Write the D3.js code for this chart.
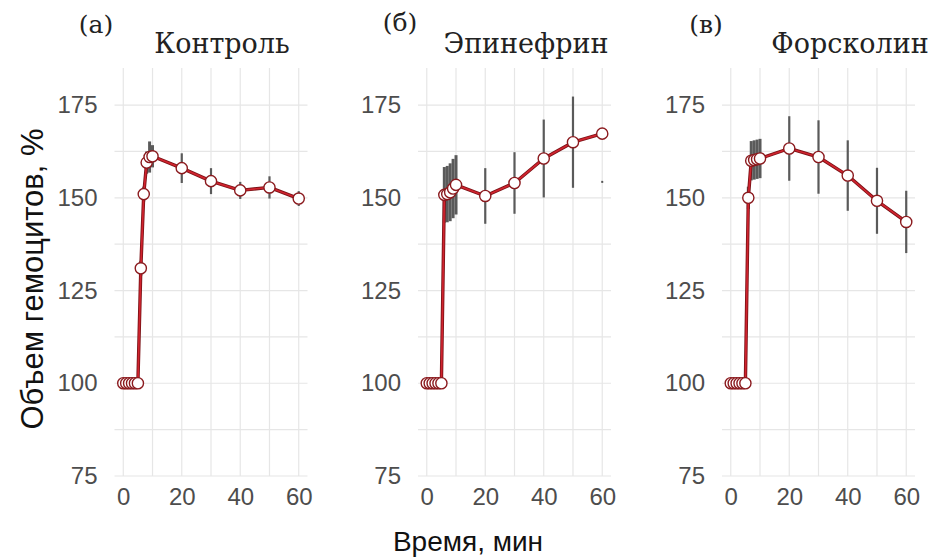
<!DOCTYPE html>
<html>
<head>
<meta charset="utf-8">
<script src="https://cdn.jsdelivr.net/npm/d3@7"></script>
<style>
  body { margin: 0; background: #fff; }
  svg { display: block; }
</style>
</head>
<body>
<div id="chart"></div>
<script>
// data (time in min, volume in %)
const times = [0, 1, 2, 3, 4, 5, 6, 7, 8, 9, 10, 20, 30, 40, 50, 60];
const panelTags = ["(а)", "(б)", "(в)"];
const panelTitles = ["Контроль", "Эпинефрин", "Форсколин"];

const controlMean = [100, 100, 100, 100, 100, 100, 131, 151, 159.5, 161, 161.2, 158, 154.5, 152, 152.8, 149.8];
const controlErr  = [0.5, 0.5, 0.5, 0.5, 0.5, 0.5, 2, 2, 3, 4.2, 3, 4, 3.5, 2.3, 3, 2];

const epiMean = [100, 100, 100, 100, 100, 100, 150.8, 151, 151.5, 152.5, 153.5, 150.5, 154, 160.6, 165, 167.3];
const epiErr  = [0.5, 0.5, 0.5, 0.5, 0.5, 0.5, 7.5, 7.6, 7.8, 8, 8, 7.5, 8.3, 10.5, 12.3, 0];

const forMean = [100, 100, 100, 100, 100, 100, 150, 160, 160.2, 160.4, 160.6, 163.3, 161, 156, 149.2, 143.5];
const forErr  = [0.5, 0.5, 0.5, 0.5, 0.5, 0.5, 3, 5.3, 5.3, 5.3, 5.3, 8.7, 9.9, 9.5, 8.9, 8.4];

const seriesMeans = [controlMean, epiMean, forMean];
const seriesErrs = [controlErr, epiErr, forErr];

// stray lower whisker left under the last epinephrine point
const strayMarks = [{ panel: 1, t: 60, v: 154.3 }];

const xTicks = [0, 20, 40, 60];
const yTicks = [75, 100, 125, 150, 175];
const xGrid = [0, 10, 20, 30, 40, 50, 60];
const yGrid = [75, 87.5, 100, 112.5, 125, 137.5, 150, 162.5, 175];

const yTitle = "Объем гемоцитов, %";
const xTitle = "Время, мин";

const width = 935, height = 559;
const panelLeft = [114.5, 418, 722];
const panelW = 193;
const titleX = [222, 526, 850];
const tagX = [96, 400, 706];
const tagY = [33, 31, 33];

const svg = d3.select("#chart").append("svg")
  .attr("width", width)
  .attr("height", height);

const y = d3.scaleLinear().domain([75, 185]).range([476, 68]);

panelLeft.forEach(function (left, p) {
  const x = d3.scaleLinear().domain([-3, 63]).range([left, left + panelW]);
  const g = svg.append("g");

  // grid
  g.selectAll(".vg").data(xGrid).join("line")
    .attr("x1", d => x(d)).attr("x2", d => x(d))
    .attr("y1", y.range()[0]).attr("y2", y.range()[1])
    .attr("stroke", "#e6e6e6").attr("stroke-width", 1.2);
  g.selectAll(".hg").data(yGrid).join("line")
    .attr("x1", x.range()[0]).attr("x2", x.range()[1])
    .attr("y1", d => y(d)).attr("y2", d => y(d))
    .attr("stroke", "#e6e6e6").attr("stroke-width", 1.2);

  // axes (labels only)
  const ax = g.append("g")
    .attr("transform", "translate(0," + y.range()[0] + ")")
    .call(d3.axisBottom(x).tickValues(xTicks).tickSize(0).tickPadding(12));
  ax.select(".domain").remove();
  ax.selectAll("text")
    .attr("font-family", "Liberation Sans, Arial, sans-serif")
    .attr("font-size", 24).attr("fill", "#4d4d4d");

  const ay = g.append("g")
    .attr("transform", "translate(" + x.range()[0] + ",0)")
    .call(d3.axisLeft(y).tickValues(yTicks).tickSize(0).tickPadding(17));
  ay.select(".domain").remove();
  ay.selectAll("text")
    .attr("font-family", "Liberation Sans, Arial, sans-serif")
    .attr("font-size", 24).attr("fill", "#4d4d4d");

  const data = times.map((t, i) => ({ t: t, v: seriesMeans[p][i], e: seriesErrs[p][i] }));

  // error bars
  g.selectAll(".eb").data(data.filter(d => d.e > 0)).join("line")
    .attr("x1", d => x(d.t)).attr("x2", d => x(d.t))
    .attr("y1", d => y(d.v - d.e)).attr("y2", d => y(d.v + d.e))
    .attr("stroke", "#5a5a5a").attr("stroke-width", d => d.t > 5 && d.t <= 10 ? 3 : 2.2);

  g.selectAll(".sm").data(strayMarks.filter(d => d.panel === p)).join("line")
    .attr("x1", d => x(d.t)).attr("x2", d => x(d.t))
    .attr("y1", d => y(d.v) - 1).attr("y2", d => y(d.v) + 1)
    .attr("stroke", "#555").attr("stroke-width", 2);

  // line
  const line = d3.line().x(d => x(d.t)).y(d => y(d.v));
  g.append("path").datum(data).attr("d", line)
    .attr("fill", "none").attr("stroke", "#7a1216").attr("stroke-width", 3.4)
    .attr("stroke-linejoin", "round");
  g.append("path").datum(data).attr("d", line)
    .attr("fill", "none").attr("stroke", "#d0232e").attr("stroke-width", 1.7)
    .attr("stroke-linejoin", "round");

  // points
  g.selectAll(".pt").data(data).join("circle")
    .attr("cx", d => x(d.t)).attr("cy", d => y(d.v)).attr("r", 5.6)
    .attr("fill", "#fff").attr("stroke", "#8b1a1e").attr("stroke-width", 1.4);

  // titles
  svg.append("text")
    .attr("x", titleX[p]).attr("y", 53)
    .attr("text-anchor", "middle")
    .attr("font-family", "DejaVu Serif, serif")
    .attr("font-size", 27).attr("fill", "#222")
    .text(panelTitles[p]);
  svg.append("text")
    .attr("x", tagX[p]).attr("y", tagY[p])
    .attr("text-anchor", "middle")
    .attr("font-family", "DejaVu Serif, serif")
    .attr("font-size", 25).attr("fill", "#222")
    .text(panelTags[p]);
});

svg.append("text")
  .attr("transform", "translate(43,279) rotate(-90)")
  .attr("text-anchor", "middle")
  .attr("font-family", "Liberation Sans, Arial, sans-serif")
  .attr("font-size", 31).attr("fill", "#111")
  .text(yTitle);

svg.append("text")
  .attr("x", 468).attr("y", 551)
  .attr("text-anchor", "middle")
  .attr("font-family", "Liberation Sans, Arial, sans-serif")
  .attr("font-size", 28).attr("fill", "#111")
  .text(xTitle);
</script>
</body>
</html>
